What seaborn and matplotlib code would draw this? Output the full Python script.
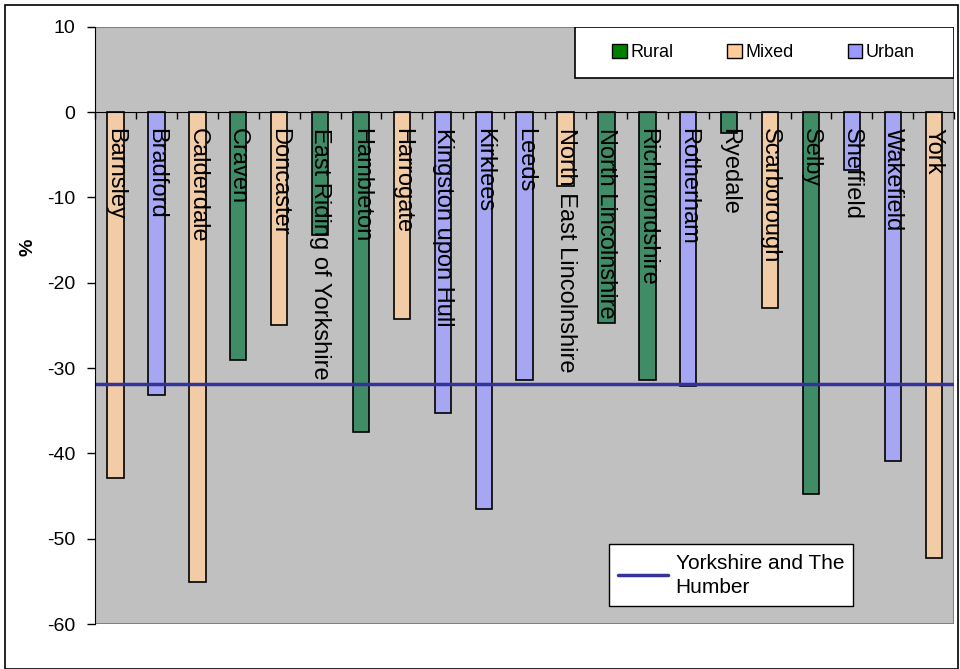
import matplotlib
matplotlib.use("Agg")
import matplotlib.pyplot as plt
import seaborn as sns
import pandas as pd
from matplotlib.patches import Patch, Rectangle
from matplotlib.lines import Line2D

# ---- data ----
areas = ["Barnsley", "Bradford", "Calderdale", "Craven", "Doncaster",
         "East Riding of Yorkshire", "Hambleton", "Harrogate", "Kingston upon Hull",
         "Kirklees", "Leeds", "North East Lincolnshire", "North Lincolnshire",
         "Richmondshire", "Rotherham", "Ryedale", "Scarborough", "Selby",
         "Sheffield", "Wakefield", "York"]
change = [-42.9, -33.1, -55.0, -29.0, -24.9, -14.4, -37.5, -24.2, -35.3,
          -46.5, -31.4, -8.7, -24.7, -31.4, -32.1, -2.4, -22.9, -44.8,
          -6.8, -40.9, -52.3]
area_type = ["Mixed", "Urban", "Mixed", "Rural", "Mixed", "Rural", "Rural", "Mixed",
             "Urban", "Urban", "Urban", "Mixed", "Rural", "Rural", "Urban", "Rural",
             "Mixed", "Rural", "Urban", "Urban", "Mixed"]
region_avg = -31.8
region_name = "Yorkshire and The\nHumber"

df = pd.DataFrame({"area": areas, "change": change, "type": area_type})

palette = {"Rural": "#339966", "Mixed": "#FFCC99", "Urban": "#9999FF"}

sns.set_style("white")
plt.rcParams["font.family"] = ["Liberation Sans", "DejaVu Sans"]
plt.rcParams["axes.unicode_minus"] = False
plt.rcParams["text.color"] = "black"
plt.rcParams["axes.labelcolor"] = "black"
plt.rcParams["ytick.color"] = "black"
plt.rcParams["xtick.color"] = "black"

fig = plt.figure(figsize=(9.6, 6.69), dpi=100)
ax = fig.add_axes([0.099, 0.067, 0.895, 0.893])
ax.set_facecolor("#C0C0C0")

sns.barplot(data=df, x="area", y="change", hue="type", palette=palette,
            dodge=False, width=0.4, edgecolor="black", linewidth=1.2,
            legend=False, ax=ax)

ax.plot([-0.5, len(areas) - 0.5], [region_avg, region_avg],
        color="#333399", linewidth=2.5)

# category names written down from the zero line
for i, name in enumerate(areas):
    ax.text(i, -1.9, name, rotation=270, ha="center", va="top", fontsize=17,
            color="black")

ax.set_xlim(-0.5, len(areas) - 0.5)
ax.set_ylim(-60, 10)
ax.set_yticks(range(-60, 11, 10))
ax.tick_params(axis="y", labelsize=14, direction="out", length=6, width=1,
               pad=8, left=True)
ax.set_xticks([i + 0.5 for i in range(-1, len(areas))])
ax.set_xticklabels([])
ax.tick_params(axis="x", direction="out", length=5, width=1, bottom=True)
ax.spines["bottom"].set_position(("data", 0))
ax.spines["bottom"].set_color("black")
ax.spines["left"].set_color("black")
ax.spines["top"].set_visible(False)
ax.spines["right"].set_visible(False)
# grey frame at the foot and right of the plot area
ax.add_patch(Rectangle((0, 0), 1, 1, transform=ax.transAxes, fill=False,
                       edgecolor="#808080", linewidth=1.5, zorder=0.5))
ax.set_xlabel("")
ax.set_ylabel("%", fontsize=14, fontweight="bold")
ax.yaxis.set_label_coords(-0.068, 0.63)

# category legend: frameless legend inside a drawn box
ax.add_patch(Rectangle((0.559, 0.9146), 0.441, 0.0854, transform=ax.transAxes,
                       facecolor="white", edgecolor="black", linewidth=1.2,
                       zorder=4))
legend_colors = {"Rural": "#008000", "Mixed": "#FFCC99", "Urban": "#9999FF"}
handles = [Patch(facecolor=legend_colors[k], edgecolor="black", label=k)
           for k in ["Rural", "Mixed", "Urban"]]
leg1 = ax.legend(handles=handles, loc="center", bbox_to_anchor=(0.778, 0.957),
                 ncol=3, frameon=False, fontsize=13, handlelength=0.8,
                 handleheight=0.8, handletextpad=0.2, columnspacing=3.0)
leg1.set_zorder(5)
ax.add_artist(leg1)

line_handle = [Line2D([0], [0], color="#333399", linewidth=2.5, label=region_name)]
leg2 = ax.legend(handles=line_handle, loc="lower left", bbox_to_anchor=(0.598, 0.030),
                 frameon=True, fancybox=False, edgecolor="black", facecolor="white",
                 framealpha=1, fontsize=15, borderaxespad=0.0,
                 handlelength=2.4, handletextpad=0.35, borderpad=0.45)
leg2.get_frame().set_linewidth(1.0)
leg2.get_texts()[0].set_linespacing(1.35)

# outer frame of the chart
fig.patches.append(Rectangle((0.005, 0.0), 0.993, 0.992, transform=fig.transFigure,
                             fill=False, edgecolor="black", linewidth=1.2))

fig.savefig("out.png", dpi=100)
